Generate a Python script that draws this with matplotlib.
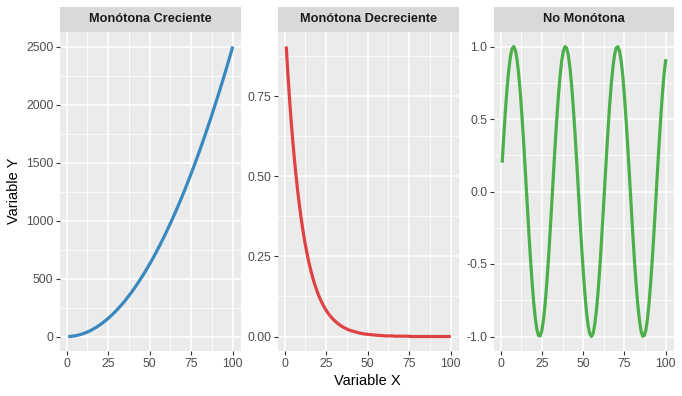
import numpy as np
import matplotlib
matplotlib.use("Agg")
from matplotlib import pyplot as plt

plt.rcParams['font.family'] = ['Liberation Sans', 'DejaVu Sans']

# eje x comun (1..100)
x_vals = np.arange(1, 101)

panel_titles = ['Monótona Creciente', 'Monótona Decreciente', 'No Monótona']

y_creciente = [
    0.25, 1, 2.25, 4, 6.25, 9, 12.25, 16, 20.25, 25,
    30.25, 36, 42.25, 49, 56.25, 64, 72.25, 81, 90.25, 100,
    110.25, 121, 132.25, 144, 156.25, 169, 182.25, 196, 210.25, 225,
    240.25, 256, 272.25, 289, 306.25, 324, 342.25, 361, 380.25, 400,
    420.25, 441, 462.25, 484, 506.25, 529, 552.25, 576, 600.25, 625,
    650.25, 676, 702.25, 729, 756.25, 784, 812.25, 841, 870.25, 900,
    930.25, 961, 992.25, 1024, 1056.25, 1089, 1122.25, 1156, 1190.25, 1225,
    1260.25, 1296, 1332.25, 1369, 1406.25, 1444, 1482.25, 1521, 1560.25, 1600,
    1640.25, 1681, 1722.25, 1764, 1806.25, 1849, 1892.25, 1936, 1980.25, 2025,
    2070.25, 2116, 2162.25, 2209, 2256.25, 2304, 2352.25, 2401, 2450.25, 2500,
]

y_decreciente = [
    0.905, 0.819, 0.741, 0.670, 0.607, 0.549, 0.497, 0.449, 0.407, 0.368,
    0.333, 0.301, 0.273, 0.247, 0.223, 0.202, 0.183, 0.165, 0.150, 0.135,
    0.122, 0.111, 0.100, 0.091, 0.082, 0.074, 0.067, 0.061, 0.055, 0.050,
    0.045, 0.041, 0.037, 0.033, 0.030, 0.027, 0.025, 0.022, 0.020, 0.018,
    0.017, 0.015, 0.014, 0.012, 0.011, 0.010, 0.009, 0.008, 0.007, 0.007,
    0.006, 0.006, 0.005, 0.005, 0.004, 0.004, 0.003, 0.003, 0.003, 0.002,
    0.002, 0.002, 0.002, 0.002, 0.002, 0.001, 0.001, 0.001, 0.001, 0.001,
    0.001, 0.001, 0.001, 0.001, 0.001, 0.0, 0.0, 0.0, 0.0, 0.0,
    0.0, 0.0, 0.0, 0.0, 0.0, 0.0, 0.0, 0.0, 0.0, 0.0,
    0.0, 0.0, 0.0, 0.0, 0.0, 0.0, 0.0, 0.0, 0.0, 0.0,
]

y_no_monotona = [
    0.199, 0.389, 0.565, 0.717, 0.841, 0.932, 0.985, 1.000, 0.974, 0.909,
    0.808, 0.675, 0.516, 0.335, 0.141, -0.058, -0.256, -0.443, -0.612, -0.757,
    -0.872, -0.952, -0.994, -0.996, -0.959, -0.883, -0.773, -0.631, -0.465, -0.279,
    -0.083, 0.117, 0.312, 0.494, 0.657, 0.794, 0.899, 0.968, 0.999, 0.989,
    0.941, 0.855, 0.734, 0.585, 0.412, 0.223, 0.025, -0.174, -0.366, -0.544,
    -0.699, -0.828, -0.925, -0.981, -1.000, -0.980, -0.918, -0.822, -0.693, -0.537,
    -0.358, -0.166, 0.033, 0.232, 0.420, 0.592, 0.740, 0.859, 0.944, 0.991,
    0.999, 0.968, 0.899, 0.795, 0.650, 0.487, 0.304, 0.108, -0.092, -0.288,
    -0.472, -0.637, -0.776, -0.883, -0.961, -0.998, -0.993, -0.951, -0.868, -0.751,
    -0.605, -0.435, -0.248, -0.051, 0.150, 0.342, 0.522, 0.683, 0.817, 0.913,
]

series = [y_creciente, y_decreciente, y_no_monotona]
colors = ['#3A88C0', '#DE4244', '#4DAF4A']

x_ticks = [0, 25, 50, 75, 100]
y_ticks = [
    [0, 500, 1000, 1500, 2000, 2500],
    [0.0, 0.25, 0.5, 0.75],
    [-1.0, -0.5, 0.0, 0.5, 1.0],
]
y_ticklabels = [
    ['0', '500', '1000', '1500', '2000', '2500'],
    ['0.00', '0.25', '0.50', '0.75'],
    ['-1.0', '-0.5', '0.0', '0.5', '1.0'],
]

W, H = 682, 396
fig = plt.figure(figsize=(W / 100, H / 100), dpi=100)
fig.patch.set_facecolor('white')

# posiciones de los paneles en pixeles (izq, der)
panel_x = [(60, 241), (278, 459), (494, 674)]
top, bottom, strip_top = 32, 351, 7

for i in range(3):
    x0, x1 = panel_x[i]
    ax = fig.add_axes([x0 / W, 1 - bottom / H, (x1 - x0) / W, (bottom - top) / H])
    ax.set_facecolor('#EBEBEB')
    for s in ax.spines.values():
        s.set_visible(False)

    y = series[i]
    ax.plot(x_vals, y, color=colors[i], lw=2.3, solid_capstyle='butt', zorder=3)

    xmin, xmax = x_vals.min(), x_vals.max()
    dx = (xmax - xmin) * 0.05
    ymin, ymax = min(y), max(y)
    dy = (ymax - ymin) * 0.05

    ax.set_xticks(x_ticks)
    ax.set_xticklabels([str(v) for v in x_ticks])
    ax.set_yticks(y_ticks[i])
    ax.set_yticklabels(y_ticklabels[i])
    # lineas menores a mitad de camino
    xm = [(a + b) / 2 for a, b in zip(x_ticks[:-1], x_ticks[1:])]
    yt = y_ticks[i]
    ym = [(a + b) / 2 for a, b in zip(yt[:-1], yt[1:])]
    step = yt[1] - yt[0]
    ym = [yt[0] - step / 2] + ym + [yt[-1] + step / 2]
    ax.set_xticks(xm, minor=True)
    ax.set_yticks(ym, minor=True)
    ax.set_xlim(xmin - dx, xmax + dx)
    ax.set_ylim(ymin - dy, ymax + dy)

    ax.grid(which='major', color='white', lw=1.1, zorder=1)
    ax.grid(which='minor', color='white', lw=0.55, zorder=1)
    ax.set_axisbelow(True)
    ax.tick_params(which='major', length=2.7, width=0.8, color='#333333',
                   labelsize=8.8, labelcolor='#4D4D4D', pad=2)
    ax.tick_params(which='minor', length=0)

    # franja del titulo
    sax = fig.add_axes([x0 / W, 1 - top / H, (x1 - x0) / W, (top - strip_top) / H])
    sax.set_facecolor('#D9D9D9')
    sax.set_xticks([])
    sax.set_yticks([])
    for s in sax.spines.values():
        s.set_visible(False)
    sax.text(0.5, 0.5, panel_titles[i], ha='center', va='center',
             fontsize=9.2, fontweight='bold', color='#1A1A1A', transform=sax.transAxes)

fig.text(367 / W, 1 - 381 / H, 'Variable X', ha='center', va='center', fontsize=10.5)
fig.text(14 / W, 1 - 191 / H, 'Variable Y', ha='center', va='center',
         rotation=90, fontsize=10.5)

plt.savefig('out.png', dpi=100)
plt.close()
